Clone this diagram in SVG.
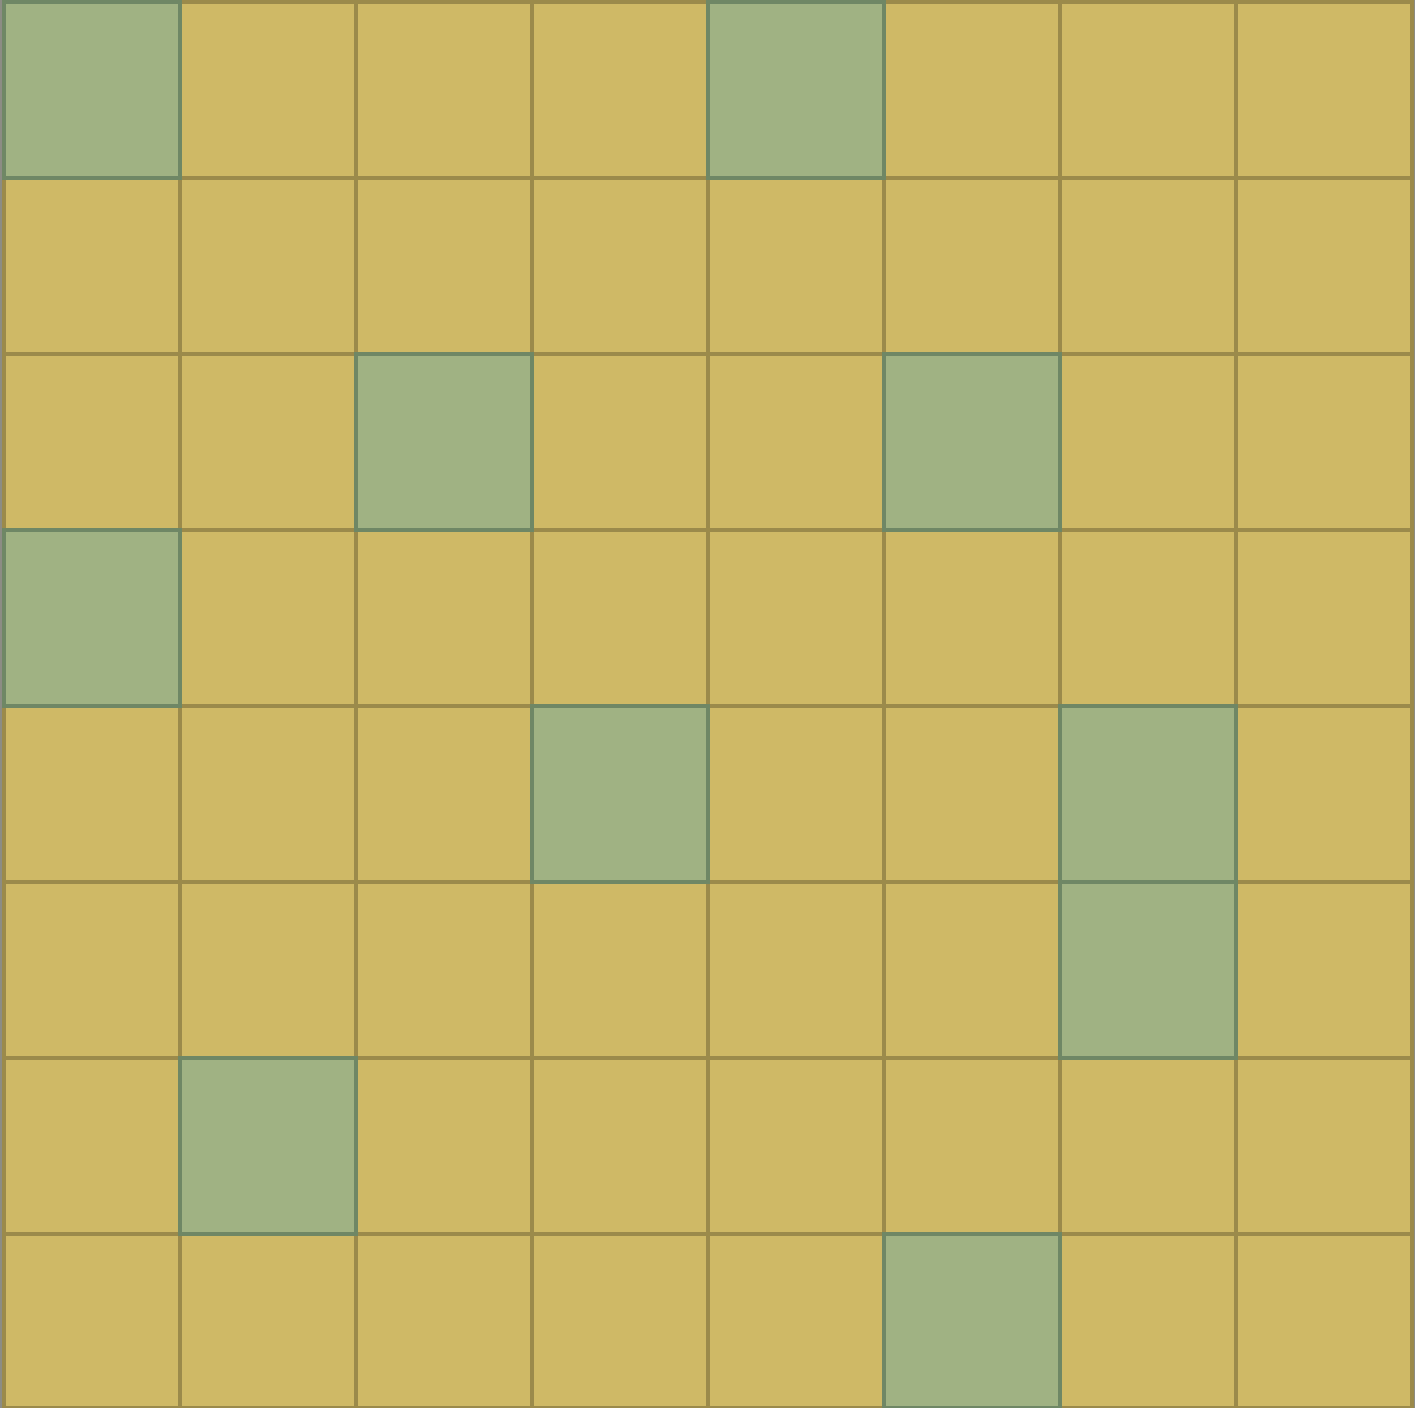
<svg xmlns="http://www.w3.org/2000/svg" width="1415" height="1408" viewBox="0 0 1415 1408">
<style>
.y{fill:#CFB966;stroke:#9B8A4B;stroke-width:4}
.g{fill:#A0B283;stroke:#6F8765;stroke-width:4}
</style>
<rect x="0" y="0" width="1415" height="1408" fill="#8C8C84"/>
<g id="cells-yellow">
<rect class="y" x="180" y="2" width="176" height="176"/><rect class="y" x="356" y="2" width="176" height="176"/><rect class="y" x="532" y="2" width="176" height="176"/><rect class="y" x="884" y="2" width="176" height="176"/><rect class="y" x="1060" y="2" width="176" height="176"/><rect class="y" x="1236" y="2" width="176" height="176"/>
<rect class="y" x="4" y="178" width="176" height="176"/><rect class="y" x="180" y="178" width="176" height="176"/><rect class="y" x="356" y="178" width="176" height="176"/><rect class="y" x="532" y="178" width="176" height="176"/><rect class="y" x="708" y="178" width="176" height="176"/><rect class="y" x="884" y="178" width="176" height="176"/><rect class="y" x="1060" y="178" width="176" height="176"/><rect class="y" x="1236" y="178" width="176" height="176"/>
<rect class="y" x="4" y="354" width="176" height="176"/><rect class="y" x="180" y="354" width="176" height="176"/><rect class="y" x="532" y="354" width="176" height="176"/><rect class="y" x="708" y="354" width="176" height="176"/><rect class="y" x="1060" y="354" width="176" height="176"/><rect class="y" x="1236" y="354" width="176" height="176"/>
<rect class="y" x="180" y="530" width="176" height="176"/><rect class="y" x="356" y="530" width="176" height="176"/><rect class="y" x="532" y="530" width="176" height="176"/><rect class="y" x="708" y="530" width="176" height="176"/><rect class="y" x="884" y="530" width="176" height="176"/><rect class="y" x="1060" y="530" width="176" height="176"/><rect class="y" x="1236" y="530" width="176" height="176"/>
<rect class="y" x="4" y="706" width="176" height="176"/><rect class="y" x="180" y="706" width="176" height="176"/><rect class="y" x="356" y="706" width="176" height="176"/><rect class="y" x="708" y="706" width="176" height="176"/><rect class="y" x="884" y="706" width="176" height="176"/><rect class="y" x="1236" y="706" width="176" height="176"/>
<rect class="y" x="4" y="882" width="176" height="176"/><rect class="y" x="180" y="882" width="176" height="176"/><rect class="y" x="356" y="882" width="176" height="176"/><rect class="y" x="532" y="882" width="176" height="176"/><rect class="y" x="708" y="882" width="176" height="176"/><rect class="y" x="884" y="882" width="176" height="176"/><rect class="y" x="1236" y="882" width="176" height="176"/>
<rect class="y" x="4" y="1058" width="176" height="176"/><rect class="y" x="356" y="1058" width="176" height="176"/><rect class="y" x="532" y="1058" width="176" height="176"/><rect class="y" x="708" y="1058" width="176" height="176"/><rect class="y" x="884" y="1058" width="176" height="176"/><rect class="y" x="1060" y="1058" width="176" height="176"/><rect class="y" x="1236" y="1058" width="176" height="176"/>
<rect class="y" x="4" y="1234" width="176" height="174"/><rect class="y" x="180" y="1234" width="176" height="174"/><rect class="y" x="356" y="1234" width="176" height="174"/><rect class="y" x="532" y="1234" width="176" height="174"/><rect class="y" x="708" y="1234" width="176" height="174"/><rect class="y" x="1060" y="1234" width="176" height="174"/><rect class="y" x="1236" y="1234" width="176" height="174"/>
</g>
<g id="cells-green">
<rect class="g" x="4" y="2" width="176" height="176"/>
<rect class="g" x="708" y="2" width="176" height="176"/>
<rect class="g" x="356" y="354" width="176" height="176"/>
<rect class="g" x="884" y="354" width="176" height="176"/>
<rect class="g" x="4" y="530" width="176" height="176"/>
<rect class="g" x="532" y="706" width="176" height="176"/>
<rect class="g" x="1060" y="706" width="176" height="176"/>
<rect class="g" x="1060" y="882" width="176" height="176"/>
<rect class="g" x="180" y="1058" width="176" height="176"/>
<rect class="g" x="884" y="1234" width="176" height="174"/>
</g>
</svg>
